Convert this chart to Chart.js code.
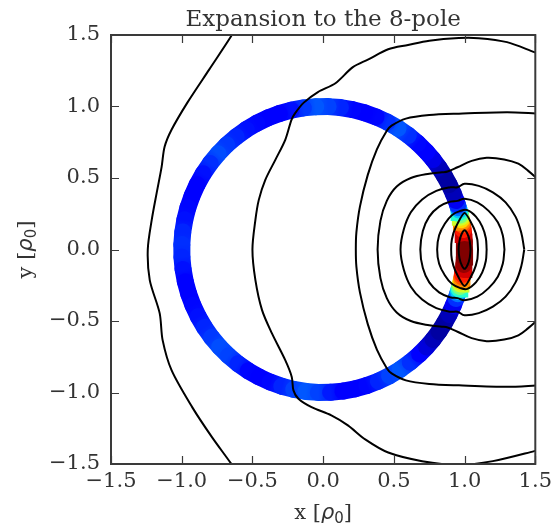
<!DOCTYPE html>
<html>
<head>
<meta charset="utf-8">
<script src="https://cdn.jsdelivr.net/npm/chart.js@4.4.1/dist/chart.umd.min.js"></script>
<style>
  html, body { margin: 0; padding: 0; background: #ffffff; }
  #wrap { width: 557px; height: 529px; }
</style>
</head>
<body>
<div id="wrap"><canvas id="chart" width="557" height="529"></canvas></div>
<script>
// ---- data ---------------------------------------------------------------
const titleText = 'Expansion to the 8-pole';
const xTicks = [-1.5, -1.0, -0.5, 0.0, 0.5, 1.0, 1.5];
const yTicks = [-1.5, -1.0, -0.5, 0.0, 0.5, 1.0, 1.5];

// charge ring: radius, band width and colour value (jet scale, 0..1) by angle in degrees
const ringRadius = 1.0;
const ringWidth = 0.12;
const ringAngles = [0, 3, 6, 8, 10, 11, 12, 13, 14, 15, 16, 17, 18, 20, 23, 27, 31, 35, 39, 43, 48, 53, 58, 63, 68, 73, 78, 83, 88, 93, 98, 103, 108, 113, 118, 123, 128, 133, 138, 143, 148, 153, 158, 163, 168, 173, 178, 183, 188, 193, 198, 203, 208, 213, 218, 223, 228, 233, 238, 243, 248, 253, 258, 263, 268, 273, 278, 283, 288, 293, 298, 303, 308, 313, 317, 321, 325, 329, 333, 337, 340, 342, 343, 344, 345, 346, 347, 348, 349, 350, 352, 354, 357, 360];
const ringValues = [1.0, 0.98, 0.93, 0.88, 0.82, 0.76, 0.68, 0.6, 0.5, 0.4, 0.32, 0.24, 0.17, 0.10, 0.05, 0.03, 0.03, 0.05, 0.09, 0.12, 0.13, 0.17, 0.21, 0.17, 0.13, 0.12, 0.13, 0.16, 0.19, 0.21, 0.18, 0.14, 0.12, 0.12, 0.13, 0.14, 0.16, 0.18, 0.20, 0.17, 0.14, 0.12, 0.12, 0.13, 0.14, 0.16, 0.17, 0.16, 0.14, 0.12, 0.12, 0.13, 0.14, 0.16, 0.18, 0.20, 0.19, 0.16, 0.13, 0.12, 0.13, 0.16, 0.19, 0.21, 0.19, 0.15, 0.12, 0.12, 0.13, 0.16, 0.19, 0.21, 0.17, 0.12, 0.08, 0.05, 0.03, 0.03, 0.05, 0.10, 0.17, 0.24, 0.32, 0.4, 0.5, 0.6, 0.68, 0.76, 0.82, 0.88, 0.93, 0.98, 1.0, 1.0];

// equipotential contours, [x, y] in units of rho0
const contourOuterLeft = [[-0.64, 1.52], [-0.652, 1.489], [-0.806, 1.258], [-0.960, 1.027], [-1.072, 0.837], [-1.121, 0.718], [-1.142, 0.578], [-1.177, 0.396], [-1.212, 0.207], [-1.24, 0.0], [-1.226, -0.214], [-1.156, -0.445], [-1.135, -0.634], [-1.072, -0.844], [-0.925, -1.104], [-0.785, -1.314], [-0.652, -1.496], [-0.64, -1.52]];
const contourSecond = [[1.52, 1.37], [1.493, 1.38], [1.3, 1.45], [1.1, 1.478], [0.959, 1.479], [0.75, 1.46], [0.6, 1.43], [0.46, 1.40], [0.32, 1.33], [0.21, 1.275], [0.087, 1.163], [-0.037, 1.101], [-0.137, 1.027], [-0.199, 0.952], [-0.224, 0.907], [-0.268, 0.767], [-0.338, 0.627], [-0.409, 0.487], [-0.455, 0.347], [-0.479, 0.207], [-0.50, 0.0], [-0.479, -0.214], [-0.432, -0.424], [-0.362, -0.587], [-0.268, -0.774], [-0.222, -0.891], [-0.210, -0.985], [-0.175, -1.043], [-0.082, -1.102], [0.058, -1.160], [0.175, -1.23], [0.30, -1.33], [0.46, -1.42], [0.7, -1.48], [0.959, -1.505], [1.2, -1.48], [1.493, -1.41], [1.52, -1.40]];
const contourThird = [[1.52, 0.95], [1.3, 0.96], [0.96, 0.95], [0.75, 0.94], [0.585, 0.915], [0.484, 0.866], [0.45, 0.83], [0.38, 0.70], [0.315, 0.52], [0.26, 0.30], [0.235, 0.12], [0.231, 0.0], [0.235, -0.12], [0.26, -0.30], [0.315, -0.52], [0.38, -0.70], [0.45, -0.83], [0.484, -0.866], [0.585, -0.915], [0.75, -0.94], [0.96, -0.95], [1.3, -0.96], [1.52, -0.95]];
const contourFourth = [[1.52, 0.49], [1.45, 0.55], [1.38, 0.6], [1.28, 0.63], [1.156, 0.641], [1.05, 0.62], [0.95, 0.575], [0.88, 0.545], [0.84, 0.54], [0.75, 0.53], [0.62, 0.5], [0.52, 0.44], [0.45, 0.34], [0.405, 0.2], [0.385, 0.0], [0.405, -0.2], [0.45, -0.34], [0.52, -0.44], [0.62, -0.5], [0.75, -0.53], [0.84, -0.54], [0.88, -0.545], [0.95, -0.575], [1.05, -0.62], [1.156, -0.641], [1.28, -0.63], [1.38, -0.6], [1.45, -0.55], [1.52, -0.49]];
const contourLoop1 = [[1.422, 0.0], [1.40, 0.12], [1.36, 0.23], [1.29, 0.33], [1.2, 0.40], [1.1, 0.445], [1.0, 0.46], [0.95, 0.435], [0.9, 0.435], [0.8, 0.41], [0.7, 0.35], [0.62, 0.26], [0.57, 0.14], [0.547, 0.0], [0.57, -0.14], [0.62, -0.26], [0.7, -0.35], [0.8, -0.41], [0.9, -0.435], [0.95, -0.435], [1.0, -0.46], [1.1, -0.445], [1.2, -0.40], [1.29, -0.33], [1.36, -0.23], [1.40, -0.12], [1.422, 0.0]];
const contourLoop2 = [[1.282, 0.0], [1.27, 0.1], [1.235, 0.19], [1.17, 0.27], [1.09, 0.33], [1.0, 0.355], [0.95, 0.34], [0.9, 0.335], [0.82, 0.3], [0.75, 0.23], [0.705, 0.13], [0.687, 0.0], [0.705, -0.13], [0.75, -0.23], [0.82, -0.3], [0.9, -0.335], [0.95, -0.34], [1.0, -0.355], [1.09, -0.33], [1.17, -0.27], [1.235, -0.19], [1.27, -0.1], [1.282, 0.0]];
const contourLoop3 = [[1.156, 0.0], [1.15, 0.08], [1.125, 0.16], [1.08, 0.23], [1.02, 0.275], [0.97, 0.27], [0.91, 0.24], [0.86, 0.18], [0.82, 0.1], [0.806, 0.0], [0.82, -0.1], [0.86, -0.18], [0.91, -0.24], [0.97, -0.27], [1.02, -0.275], [1.08, -0.23], [1.125, -0.16], [1.15, -0.08], [1.156, 0.0]];
const contourLoop4 = [[1.095, 0.0], [1.09, 0.07], [1.065, 0.15], [1.0, 0.255], [0.935, 0.15], [0.91, 0.07], [0.905, 0.0], [0.91, -0.07], [0.935, -0.15], [1.0, -0.255], [1.065, -0.15], [1.09, -0.07], [1.095, 0.0]];
const contourLoop5 = [[1.042, 0.0], [1.036, 0.06], [1.02, 0.11], [1.0, 0.135], [0.98, 0.11], [0.964, 0.06], [0.958, 0.0], [0.964, -0.06], [0.98, -0.11], [1.0, -0.135], [1.02, -0.11], [1.036, -0.06], [1.042, 0.0]];

const contours = [contourOuterLeft, contourSecond, contourThird, contourFourth, contourLoop1, contourLoop2, contourLoop3, contourLoop4, contourLoop5];
const contourTension = [0.3, 0.3, 0.3, 0.35, 0.4, 0.4, 0.4, 0.2, 0.3];

// ---- styling helpers ------------------------------------------------------
const TEXT = '#333333';
const FRAME = '#3a3a3a';
const SERIF = "'DejaVu Serif', 'Liberation Serif', serif";

function lerpTable(v, table) {
  if (v <= table[0][0]) return table[0][1];
  for (let i = 1; i < table.length; i++) {
    if (v <= table[i][0]) {
      const [x0, y0] = table[i - 1], [x1, y1] = table[i];
      return y0 + (y1 - y0) * (v - x0) / (x1 - x0);
    }
  }
  return table[table.length - 1][1];
}
const JET_R = [[0, 0], [0.35, 0], [0.66, 1], [0.89, 1], [1, 0.5]];
const JET_G = [[0, 0], [0.125, 0], [0.375, 1], [0.64, 1], [0.91, 0], [1, 0]];
const JET_B = [[0, 0.5], [0.11, 1], [0.34, 1], [0.65, 0], [1, 0]];
function jet(v) {
  const r = Math.round(255 * lerpTable(v, JET_R));
  const g = Math.round(255 * lerpTable(v, JET_G));
  const b = Math.round(255 * lerpTable(v, JET_B));
  return `rgb(${r},${g},${b})`;
}

const ringPoints = ringAngles.map(a => ({
  x: ringRadius * Math.cos(a * Math.PI / 180),
  y: ringRadius * Math.sin(a * Math.PI / 180)
}));

// each ring segment is stroked with a gradient between its two end colours
function ringSegmentColor(ctx) {
  const c = ctx.chart.ctx;
  const v0 = ringValues[ctx.p0DataIndex], v1 = ringValues[ctx.p1DataIndex];
  const g = c.createLinearGradient(ctx.p0.x, ctx.p0.y, ctx.p1.x, ctx.p1.y);
  const n = 6;
  for (let i = 0; i <= n; i++) {
    const t = i / n;
    g.addColorStop(t, jet(v0 + (v1 - v0) * t));
  }
  return g;
}

function fmtTick(v) {
  const s = Math.abs(v).toFixed(1);
  return v < -1e-9 ? '\u2212' + s : s;
}

// frame, inward tick marks and the axis titles with a math subscript
const framePlugin = {
  id: 'frame',
  afterDatasetsDraw(chart) {
    const { ctx, chartArea: a, scales } = chart;
    ctx.save();
    ctx.strokeStyle = FRAME;
    ctx.lineWidth = 1.2;
    const len = 8;
    ctx.beginPath();
    xTicks.forEach(v => {
      const px = Math.round(scales.x.getPixelForValue(v)) + 0.5;
      ctx.moveTo(px, a.bottom); ctx.lineTo(px, a.bottom - len);
      ctx.moveTo(px, a.top); ctx.lineTo(px, a.top + len);
    });
    yTicks.forEach(v => {
      const py = Math.round(scales.y.getPixelForValue(v)) + 0.5;
      ctx.moveTo(a.left, py); ctx.lineTo(a.left + len, py);
      ctx.moveTo(a.right, py); ctx.lineTo(a.right - len, py);
    });
    ctx.stroke();
    ctx.lineWidth = 2;
    ctx.strokeRect(a.left, a.top, a.right - a.left, a.bottom - a.top);
    ctx.restore();
  },
  afterDraw(chart) {
    const { ctx, chartArea: a } = chart;
    const drawLabel = (letter, cx, cy, rotate) => {
      const parts = [
        { t: letter + ' [', font: `21px ${SERIF}`, dy: 0 },
        { t: '\u03C1', font: `italic 21px 'DejaVu Sans', sans-serif`, dy: 0 },
        { t: '0', font: `15px 'DejaVu Sans', sans-serif`, dy: 4 },
        { t: ']', font: `21px ${SERIF}`, dy: 0 }
      ];
      ctx.save();
      let w = 0;
      parts.forEach(p => { ctx.font = p.font; p.w = ctx.measureText(p.t).width; w += p.w; });
      ctx.translate(cx, cy);
      if (rotate) ctx.rotate(-Math.PI / 2);
      ctx.fillStyle = TEXT;
      ctx.textBaseline = 'alphabetic';
      ctx.textAlign = 'left';
      let x = -w / 2;
      parts.forEach(p => { ctx.font = p.font; ctx.fillText(p.t, x, 6 + p.dy); x += p.w; });
      ctx.restore();
    };
    drawLabel('x', (a.left + a.right) / 2, 513, false);
    drawLabel('y', 26, (a.top + a.bottom) / 2, true);
  }
};

const datasets = [];
contours.forEach((pts, i) => {
  datasets.push({
    label: 'contour ' + (i + 1),
    data: pts.map(p => ({ x: p[0], y: p[1] })),
    showLine: true,
    borderColor: '#000000',
    borderWidth: 2,
    pointRadius: 0,
    tension: contourTension[i],
    fill: false,
    clip: 0,
    order: 1
  });
});
datasets.push({
  label: 'ring',
  data: ringPoints,
  showLine: true,
  borderColor: jet(0.12),
  borderWidth: (ctx) => {
    const s = ctx.chart.scales.x;
    return Math.abs(s.getPixelForValue(ringWidth) - s.getPixelForValue(0));
  },
  borderCapStyle: 'round',
  pointRadius: 0,
  tension: 0,
  fill: false,
  clip: 0,
  order: 2,
  segment: { borderColor: ringSegmentColor }
});

new Chart(document.getElementById('chart'), {
  type: 'scatter',
  data: { datasets },
  options: {
    responsive: false,
    animation: false,
    devicePixelRatio: 1,
    layout: { padding: { left: 0, right: 18, top: 0, bottom: 0 } },
    plugins: {
      legend: { display: false },
      tooltip: { enabled: false },
      title: {
        display: true,
        text: titleText,
        fullSize: false,
        color: TEXT,
        font: { family: SERIF, size: 23, weight: 'normal', lineHeight: 1.2 },
        padding: { top: 6.5, bottom: 0.9 }
      }
    },
    scales: {
      x: {
        type: 'linear',
        min: -1.5, max: 1.5,
        afterBuildTicks: s => { s.ticks = xTicks.map(v => ({ value: v })); },
        afterFit: s => { s.height = 65; },
        grid: { display: false, drawTicks: false },
        border: { display: false },
        ticks: { color: TEXT, font: { family: SERIF, size: 21 }, padding: 5, maxRotation: 0, callback: v => fmtTick(v) }
      },
      y: {
        type: 'linear',
        min: -1.5, max: 1.5,
        afterBuildTicks: s => { s.ticks = yTicks.map(v => ({ value: v })); },
        afterFit: s => { s.width = 111; },
        grid: { display: false, drawTicks: false },
        border: { display: false },
        ticks: { color: TEXT, font: { family: SERIF, size: 21 }, padding: 11, callback: v => fmtTick(v) }
      }
    }
  },
  plugins: [framePlugin]
});
</script>
</body>
</html>
